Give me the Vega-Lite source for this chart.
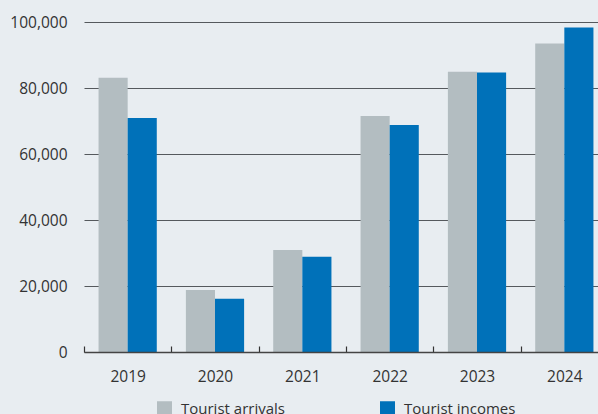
{
  "$schema": "https://vega.github.io/schema/vega-lite/v6.json",
  "autosize": {"type": "none"},
  "padding": {"left": 84, "top": 22, "right": 0, "bottom": 62},
  "width": 514,
  "height": 330,
  "background": "#e8edf1",
  "data": {
    "values": [
      {"year": "2019", "series": "Tourist arrivals", "value": 83100},
      {"year": "2019", "series": "Tourist incomes", "value": 70900},
      {"year": "2020", "series": "Tourist arrivals", "value": 18800},
      {"year": "2020", "series": "Tourist incomes", "value": 16100},
      {"year": "2021", "series": "Tourist arrivals", "value": 30900},
      {"year": "2021", "series": "Tourist incomes", "value": 28900},
      {"year": "2022", "series": "Tourist arrivals", "value": 71500},
      {"year": "2022", "series": "Tourist incomes", "value": 68800},
      {"year": "2023", "series": "Tourist arrivals", "value": 84900},
      {"year": "2023", "series": "Tourist incomes", "value": 84700},
      {"year": "2024", "series": "Tourist arrivals", "value": 93500},
      {"year": "2024", "series": "Tourist incomes", "value": 98300}
    ]
  },
  "mark": {"type": "bar"},
  "encoding": {
    "x": {
      "field": "year",
      "type": "nominal",
      "scale": {"range": [0, 524], "paddingInner": 0, "paddingOuter": 0},
      "axis": {
        "title": null,
        "labelAngle": 0,
        "tickBand": "extent",
        "tickSize": -6,
        "tickColor": "#333333",
        "tickWidth": 1.2,
        "domainColor": "#444444",
        "domainWidth": 1.5,
        "labelPadding": 23,
        "labelFont": "Open Sans",
        "labelFontSize": 15.5,
        "labelColor": "#333333",
        "zindex": 1
      }
    },
    "xOffset": {
      "field": "series",
      "type": "nominal",
      "scale": {"paddingOuter": 0.5, "paddingInner": 0}
    },
    "y": {
      "field": "value",
      "type": "quantitative",
      "scale": {"domain": [0, 100000], "nice": false},
      "axis": {
        "title": null,
        "values": [0, 20000, 40000, 60000, 80000, 100000],
        "format": ",.0f",
        "domain": false,
        "ticks": false,
        "tickSize": 0,
        "labelPadding": 17,
        "grid": true,
        "gridColor": "#55595d",
        "gridWidth": 1.2,
        "labelFont": "Open Sans",
        "labelFontSize": 15.5,
        "labelColor": "#333333"
      }
    },
    "color": {
      "field": "series",
      "type": "nominal",
      "scale": {"domain": ["Tourist arrivals", "Tourist incomes"], "range": ["#b3bdc1", "#0071b9"]},
      "legend": {
        "title": null,
        "orient": "none",
        "direction": "horizontal",
        "legendX": 73,
        "legendY": 379,
        "symbolType": "square",
        "symbolSize": 225,
        "symbolStrokeWidth": 0,
        "symbolOpacity": 1,
        "labelOffset": 9,
        "columnPadding": 95,
        "labelFont": "Open Sans",
        "labelFontSize": 15,
        "labelColor": "#333333"
      }
    }
  },
  "config": {"view": {"stroke": null}}
}
